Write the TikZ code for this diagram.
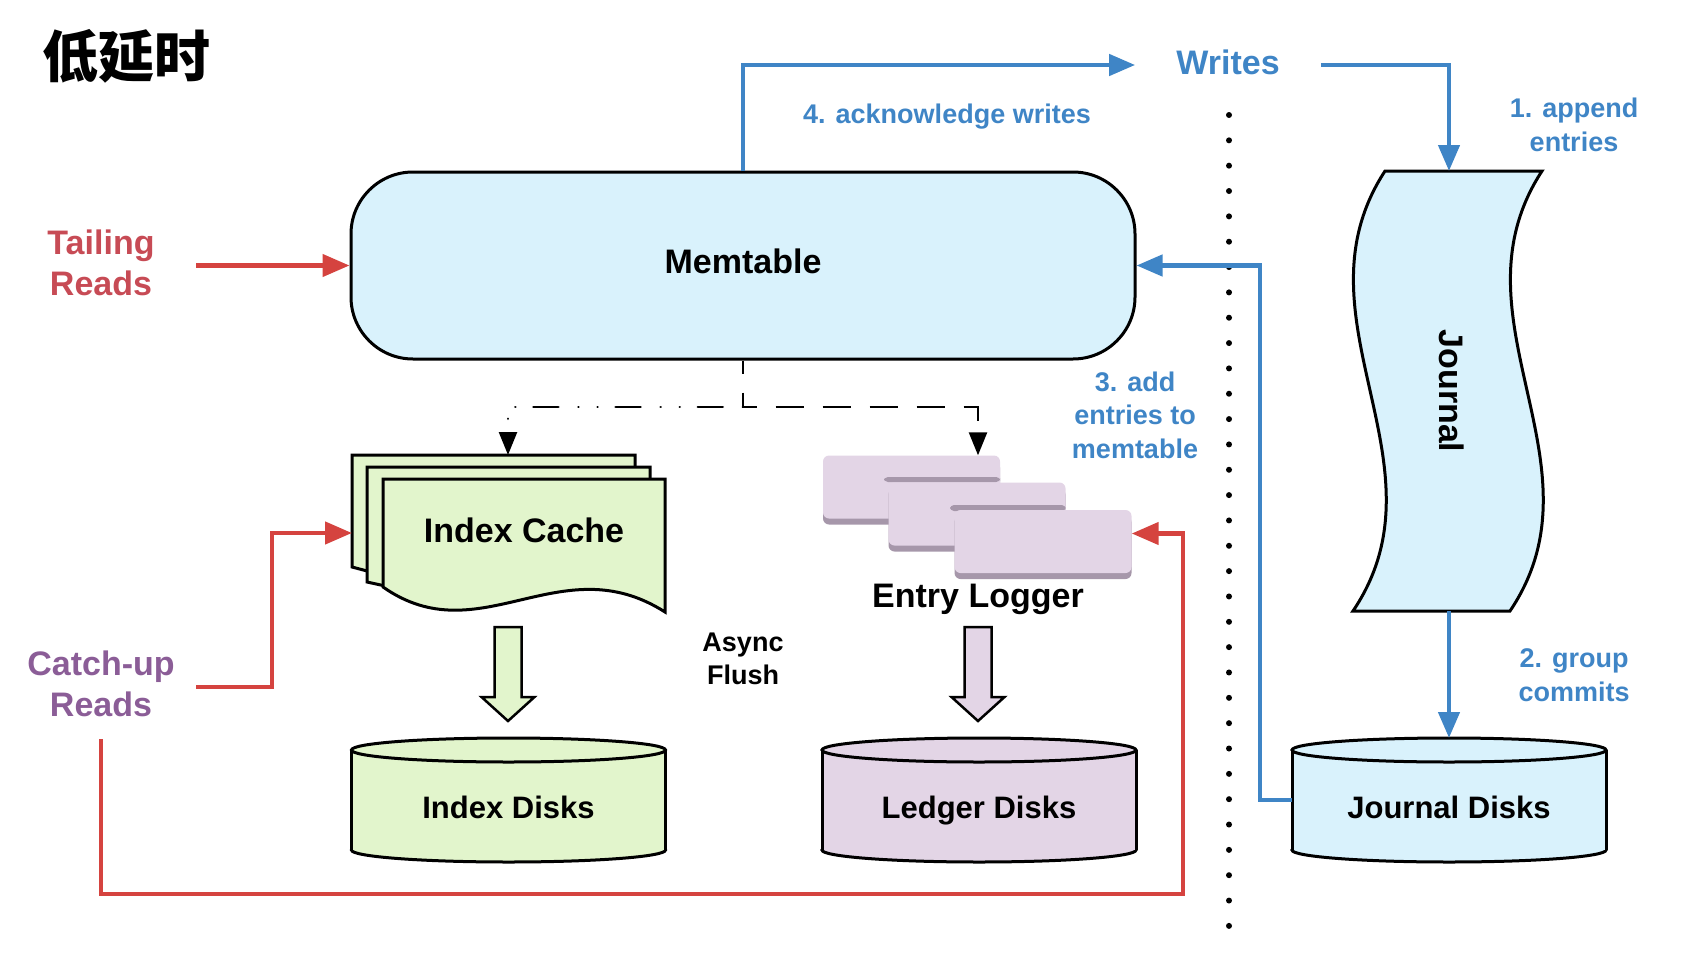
\documentclass[tikz,border=0pt]{standalone}
\usepackage{fontspec}
\setmainfont{Liberation Sans}
\newfontfamily\cjk{Noto Sans CJK SC}
\usetikzlibrary{arrows.meta,shadows}

\definecolor{wblue}{HTML}{3F85C6}
\definecolor{rred}{HTML}{D5433F}
\definecolor{tailred}{HTML}{C74B55}
\definecolor{cupurple}{HTML}{8B5D97}
\definecolor{memfill}{HTML}{D9F2FC}
\definecolor{greenfill}{HTML}{E2F5CC}
\definecolor{logfill}{HTML}{E3D5E6}
\definecolor{logshade}{HTML}{A697AA}

\newcommand\bigtxt{\fontsize{34pt}{41pt}\selectfont\bfseries}
\newcommand\midtxt{\fontsize{31pt}{37pt}\selectfont\bfseries}
\newcommand\smalltxt{\fontsize{27pt}{33.5pt}\selectfont\bfseries}

\tikzset{
  bluearrow/.style={draw=wblue, line width=4.5pt, -{Triangle[length=26pt,width=21pt]}},
  redarrow/.style={draw=rred, line width=4.5pt, -{Triangle[length=27pt,width=22pt]}},
  bluelbl/.style={text=wblue, font=\smalltxt, align=center},
  tip/.style={line width=2.5pt, -{Triangle[length=23pt,width=18pt]}},
  logbox/.style={rectangle, rounded corners=6pt, fill=logfill, inner sep=0pt,
    minimum width=177pt, minimum height=63pt,
    drop shadow={shadow xshift=0pt, shadow yshift=-6pt, fill=logshade, opacity=1}}
}

\newcommand\disk[4]{%
  \filldraw[fill=#2, line width=3pt] (#1,850) ellipse [x radius=157, y radius=12];
  \fill[#2] ({#1-157},750) rectangle ({#1+157},850);
  \draw[line width=3pt] ({#1-157},750) -- ({#1-157},850) ({#1+157},750) -- ({#1+157},850);
  \filldraw[fill=#2, line width=3pt] (#1,750) ellipse [x radius=157, y radius=12];
  \node[font=\midtxt, anchor=base] (#3) at (#1,818) {#4};
}
\newcommand\blockarrow[2]{%
  \filldraw[fill=#2, line width=2.5pt, line join=miter] ({#1-13.5},627) -- ({#1+13.5},627)
    -- ({#1+13.5},697) -- ({#1+26.5},697) -- (#1,721) -- ({#1-26.5},697) -- ({#1-13.5},697) -- cycle;
}

\begin{document}
\begin{tikzpicture}[x=1pt, y=-1pt]
\useasboundingbox (0,0) rectangle (1708,958);

\node[font={\cjk\fontsize{56pt}{60pt}\selectfont\bfseries}] (title) at (126,56) {低延时};

\draw[line width=6pt, line cap=round, dash pattern=on 0pt off 25.34pt] (1229,115) -- (1229,926);

\node[draw, line width=3pt, fill=memfill, rounded corners=62pt, minimum width=784pt,
  minimum height=187pt, text depth=8pt, font=\bigtxt] (mem) at (743,265.5) {Memtable};

\filldraw[fill=memfill, line width=3pt] (1385,171) -- (1542,171) .. controls (1446,318) and (1609,464) .. (1510,611)
  -- (1353,611) .. controls (1452,464) and (1289,318) .. (1385,171) -- cycle;
\node[font=\bigtxt, rotate=-90] (journal) at (1452,391) {Journal};
\coordinate (jtop) at (1449,171);
\coordinate (jbot) at (1449,611);

\filldraw[fill=greenfill, line width=3pt] (352,455) -- (635,455) -- (635,540) -- (420,585) -- (352,567) -- cycle;
\filldraw[fill=greenfill, line width=3pt] (367,467) -- (650,467) -- (650,555) -- (440,598) -- (367,582) -- cycle;
\filldraw[fill=greenfill, line width=3pt] (383,479) -- (665,479) -- (665,612) .. controls (560,545) and (480,655) .. (383,587) -- cycle;
\node[font=\bigtxt] (cache) at (524,530) {Index Cache};
\coordinate (cachetop) at (508,455);
\coordinate (cachewest) at (352,533);

\node[logbox] (log1) at (911.5,487) {};
\fill[logshade, rounded corners=4pt] (884,477) rectangle (log1.east |- 0,482);
\node[logbox] (log2) at (977,514) {};
\fill[logshade, rounded corners=4pt] (950,505) rectangle (log2.east |- 0,511);
\node[logbox] (log3) at (1043,541.5) {};
\node[font=\bigtxt] (logger) at (978,599) {Entry Logger};

\blockarrow{508}{greenfill}
\blockarrow{978}{logfill}

\disk{508.5}{greenfill}{idisk}{Index Disks}
\disk{979}{logfill}{ldisk}{Ledger Disks}
\disk{1449}{memfill}{jdisk}{Journal Disks}
\coordinate (jdtop) at (1449,738);
\coordinate (jdleft) at (1292,800);

\node[font=\smalltxt, align=center] (async) at (743,659) {Async\\Flush};
\node[font=\bigtxt, text=tailred, align=center] (tail) at (101,263) {Tailing\\Reads};
\node[font=\bigtxt, text=cupurple, align=center] (catchup) at (101,684) {Catch-up\\Reads};

\node[font=\bigtxt, text=wblue, inner xsep=41pt, text depth=6pt] (writes) at (1228,65) {Writes};
\node[bluelbl] (ack) at (947,117) {4. acknowledge writes};
\node[bluelbl] (append) at (1574,125) {1. append\\entries};
\node[bluelbl] (group) at (1574,675) {2. group\\commits};
\node[bluelbl] (addent) at (1135,415) {3. add\\entries to\\memtable};

\draw[bluearrow] (mem.north) |- (writes.west);
\draw[bluearrow] (writes.east) -| (jtop);
\draw[bluearrow] (jbot) -- (jdtop);
\coordinate (jturn) at (1260,265.5);
\draw[bluearrow] (jdleft) -| (jturn) -- (mem.east);

\coordinate (split) at (743,407);
\draw[tip, dash pattern=on 28pt off 19pt, dash phase=15pt] (mem.south) -- (split) -| ([xshift=66.5pt]log1.north);
\draw[tip, line cap=round, dash pattern=on 25pt off 18pt on 0.1pt off 19pt on 0.1pt off 20pt, dash phase=62pt] (split) -| (cachetop);

\coordinate (tailfrom) at (196,265.5);
\draw[redarrow] (tailfrom) -- (mem.west);
\coordinate (cufrom) at (196,687);
\coordinate (cuturn) at (272,533);
\draw[redarrow] (cufrom) -| (cuturn) -- (cachewest);
\coordinate (cudown) at (101,739);
\coordinate (redturn) at (1183,894);
\draw[redarrow] (cudown) |- (redturn) |- ([yshift=8pt]log3.east);
\end{tikzpicture}
\end{document}
